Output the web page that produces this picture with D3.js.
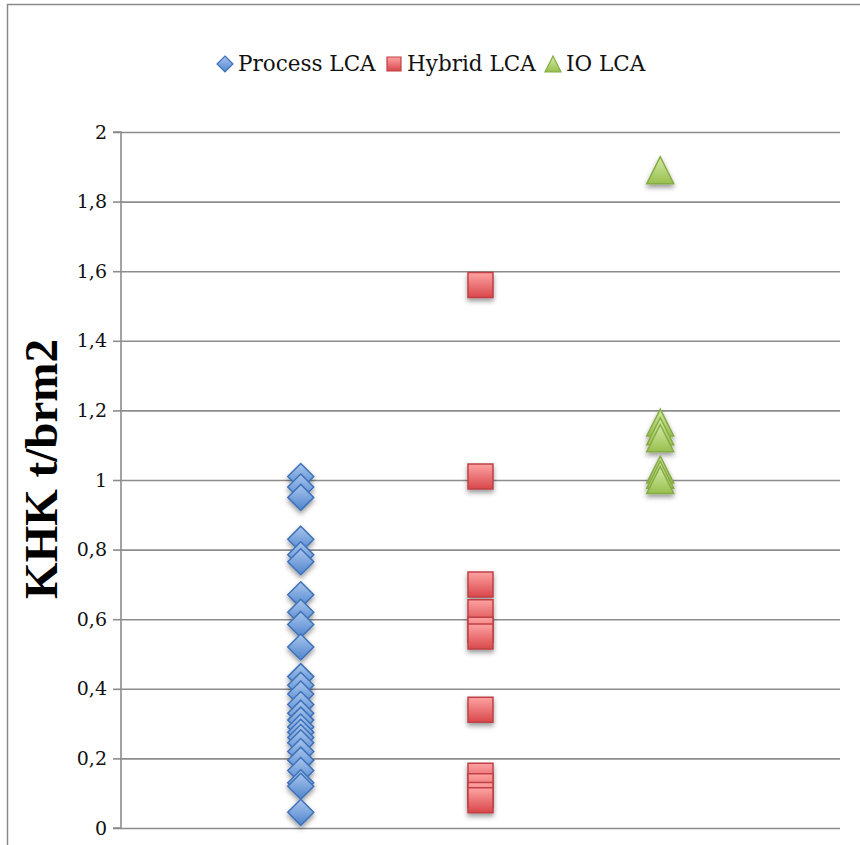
<!DOCTYPE html>
<html>
<head>
<meta charset="utf-8">
<script src="https://cdn.jsdelivr.net/npm/d3@7"></script>
<style>
  html, body { margin: 0; padding: 0; background: #fff; }
  svg { display: block; }
</style>
</head>
<body>
<svg id="chart" width="860" height="845"></svg>
<script>
// ---- data ----
const seriesNames = ["Process LCA", "Hybrid LCA", "IO LCA"];
const seriesX = [1, 2, 3];
const processLCA = [1.01, 0.98, 0.95, 0.83, 0.785, 0.765, 0.67, 0.62, 0.585, 0.52, 0.435, 0.41, 0.385, 0.355, 0.33, 0.31, 0.29, 0.275, 0.26, 0.245, 0.22, 0.195, 0.165, 0.13, 0.12, 0.045];
const hybridLCA = [1.56, 1.01, 0.70, 0.62, 0.57, 0.55, 0.34, 0.15, 0.12, 0.095, 0.08];
const ioLCA = [1.89, 1.165, 1.14, 1.12, 1.03, 1.015, 1.0];
const yTickValues = [0, 0.2, 0.4, 0.6, 0.8, 1, 1.2, 1.4, 1.6, 1.8, 2];
const yTickLabels = ["0", "0,2", "0,4", "0,6", "0,8", "1", "1,2", "1,4", "1,6", "1,8", "2"];
const yTitle = "KHK t/brm2";

// ---- layout ----
const svg = d3.select("#chart");
const plot = { left: 121, right: 840, top: 132, bottom: 828 };
const x = d3.scaleLinear().domain([0, 4]).range([plot.left, plot.right]);
const y = d3.scaleLinear().domain([0, 2]).range([plot.bottom, plot.top]);

const defs = svg.append("defs");
function grad(id, c1, c2) {
  const g = defs.append("linearGradient").attr("id", id).attr("x1", 0).attr("y1", 0).attr("x2", 0).attr("y2", 1);
  g.append("stop").attr("offset", "0%").attr("stop-color", c1);
  g.append("stop").attr("offset", "100%").attr("stop-color", c2);
}
grad("gBlue", "#a9c6ee", "#4f84cc");
grad("gRed", "#ffa3a3", "#d8474a");
grad("gGreen", "#d5eba6", "#98bf4e");
const f = defs.append("filter").attr("id", "shadow").attr("x", "-50%").attr("y", "-50%").attr("width", "200%").attr("height", "200%");
f.append("feDropShadow").attr("dx", 0).attr("dy", 3).attr("stdDeviation", 2.4).attr("flood-color", "#000").attr("flood-opacity", 0.4);

// outer frame
svg.append("path").attr("d", "M7.5,845 L7.5,4.5 L860,4.5")
  .attr("fill", "none").attr("stroke", "#8a8a8a").attr("stroke-width", 1.5);

// grid
svg.append("g").attr("transform", `translate(${plot.left},0)`)
  .call(d3.axisLeft(y).tickValues(yTickValues).tickSize(-(plot.right - plot.left)).tickFormat(""))
  .call(g => g.select(".domain").remove())
  .call(g => g.selectAll("line").attr("stroke", "#8c8c8c").attr("stroke-width", 1.6));

// axis
svg.append("g").attr("transform", `translate(${plot.left},0)`)
  .call(d3.axisLeft(y).tickValues(yTickValues).tickSize(8).tickPadding(6)
    .tickFormat((d, i) => yTickLabels[i]))
  .call(g => g.select(".domain").attr("stroke", "#8c8c8c").attr("stroke-width", 1.6).attr("d", `M-8,${plot.top}H0V${plot.bottom}H-8`))
  .call(g => g.selectAll("line").attr("stroke", "#8c8c8c").attr("stroke-width", 1.6))
  .call(g => g.selectAll("text").attr("font-family", "DejaVu Serif").attr("font-size", 19).attr("fill", "#111"));

// y title
svg.append("text")
  .attr("transform", `translate(57,469) rotate(-90)`)
  .attr("text-anchor", "middle")
  .attr("font-family", "Liberation Serif").attr("font-weight", "bold").attr("font-size", 47)
  .attr("fill", "#000")
  .text(yTitle);

// marker shapes
const diamond = s => `M0,${-s}L${s},0L0,${s}L${-s},0Z`;
const square = s => `M${-s},${-s}H${s}V${s}H${-s}Z`;
const triangle = s => `M0,${-s}L${s},${s}H${-s}Z`;
const styles = [
  { path: diamond(13), fill: "url(#gBlue)", stroke: "#3f72b8", leg: diamond(8) },
  { path: square(12.5), fill: "url(#gRed)", stroke: "#bf4044", leg: square(7) },
  { path: triangle(13.5), fill: "url(#gGreen)", stroke: "#86ab45", leg: triangle(8) }
];
const allSeries = [processLCA, hybridLCA, ioLCA];

allSeries.forEach((vals, si) => {
  svg.append("g").attr("filter", "url(#shadow)")
    .selectAll("path").data(vals).join("path")
    .attr("transform", d => `translate(${x(seriesX[si])},${y(d)})`)
    .attr("d", styles[si].path)
    .attr("fill", styles[si].fill)
    .attr("stroke", styles[si].stroke)
    .attr("stroke-width", 1.5);
});

// legend
const legendPos = [225, 394, 553];
const leg = svg.append("g");
seriesNames.forEach((name, i) => {
  leg.append("path").attr("transform", `translate(${legendPos[i]},64)`)
    .attr("d", styles[i].leg).attr("fill", styles[i].fill).attr("stroke", styles[i].stroke).attr("stroke-width", 1.2);
  leg.append("text").attr("x", legendPos[i] + 13).attr("y", 71)
    .attr("font-family", "DejaVu Serif").attr("font-size", 21.5).attr("fill", "#111")
    .text(name);
});
</script>
</body>
</html>
